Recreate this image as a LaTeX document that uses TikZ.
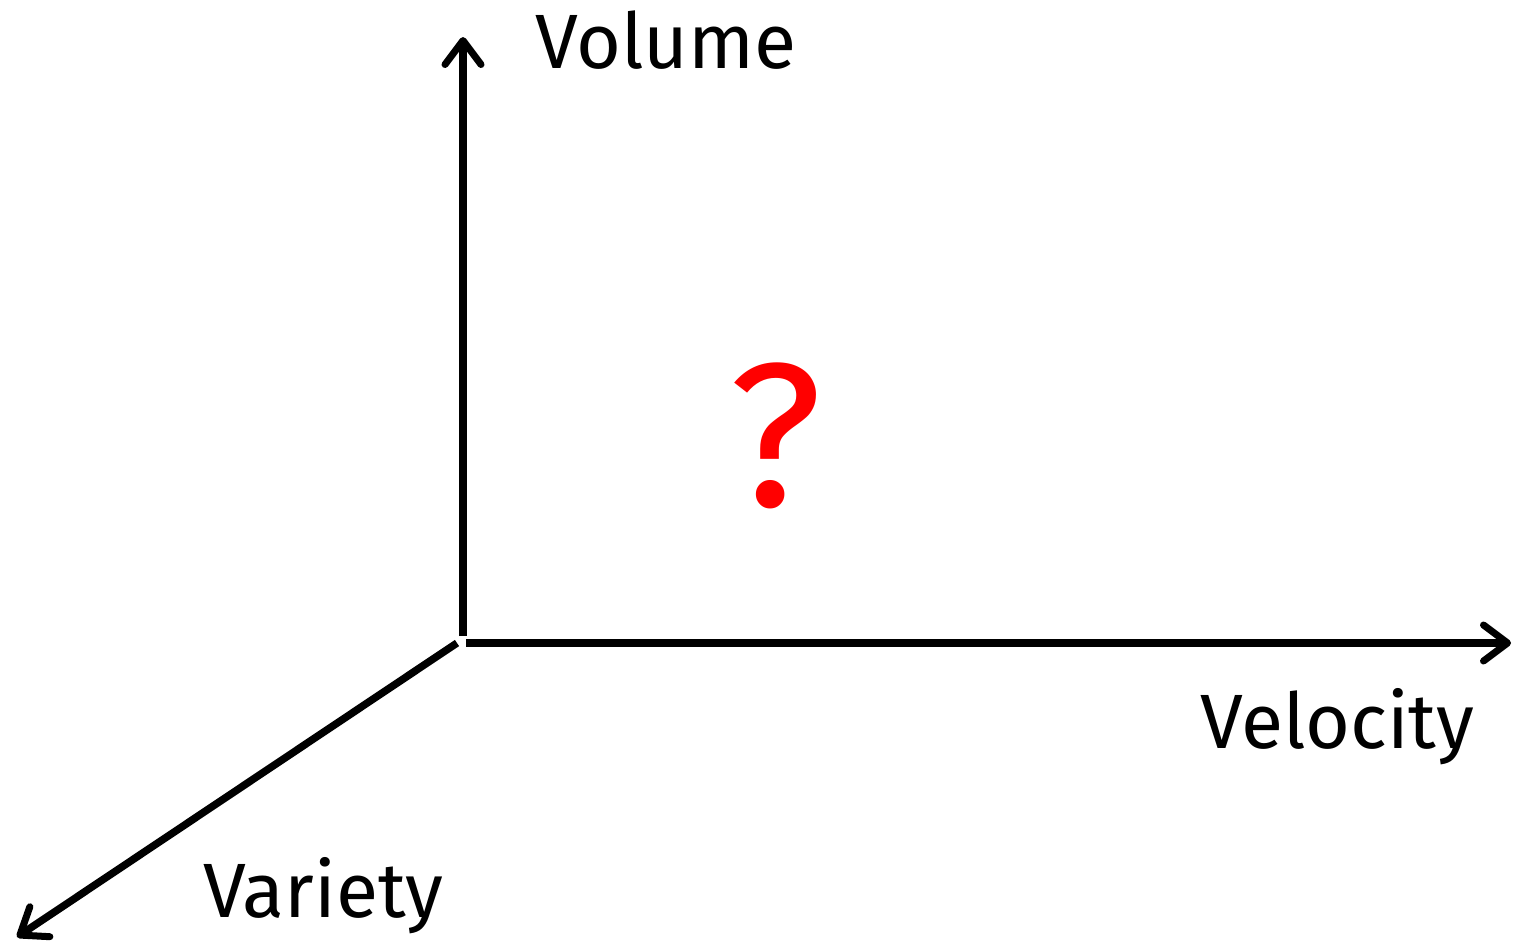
\documentclass[tikz,border=0pt]{standalone}
\usepackage{fontspec}
\setmainfont{Fira Sans}
\usetikzlibrary{arrows.meta}
\begin{document}
\begin{tikzpicture}[x=1pt,y=-1pt,
  axis/.style={line width=7.5pt,-{Straight Barb[round,length=24pt,width=36pt,line width=7pt]}},
  lbl/.style={font=\fontsize{77}{82}\selectfont,inner sep=0pt,anchor=base west}]
\useasboundingbox (0,0) rectangle (1516,946);
\coordinate (vb) at (463,636);
\coordinate (vt) at (463,37);
\coordinate (hb) at (466,643);
\coordinate (ht) at (1511,643);
\coordinate (db) at (457,643);
\coordinate (dt) at (17,937);
\draw[axis] (vb) -- (vt);
\draw[axis] (hb) -- (ht);
\draw[axis] (db) -- (dt);
\node[lbl] (vol) at (535,68) {Volume};
\node[lbl] (vel) at (1200,748) {Velocity};
\node[lbl] (var) at (203,917) {Variety};
\node[font=\fontsize{205}{210}\selectfont,text=red,inner sep=0pt,anchor=base] (q) at (776,506) {?};
\end{tikzpicture}
\end{document}
